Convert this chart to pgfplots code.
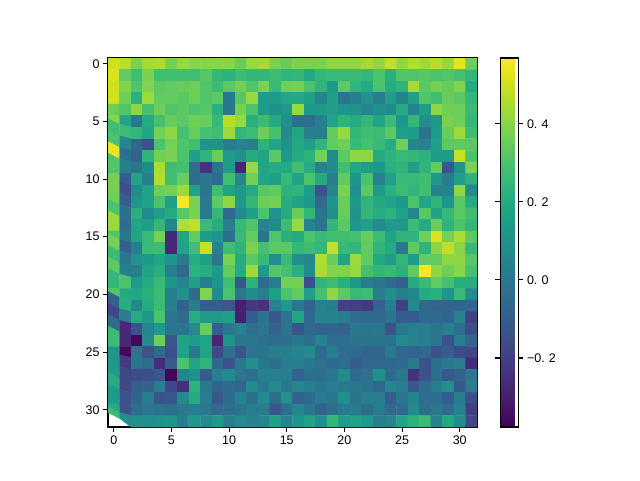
\documentclass[border=0pt]{standalone}
\usepackage{fontspec}
\setmainfont{Liberation Sans}
\usepackage{pgfplots}
\pgfplotsset{compat=1.18}
\begin{document}
\begin{tikzpicture}[x=1pt,y=1pt]
\useasboundingbox (0,0) rectangle (640,480);
\begin{axis}[
    at={(108pt,53pt)}, anchor=south west,
    scale only axis, width=369pt, height=369pt,
    y dir=reverse,
    xmin=-0.5, xmax=31.5, ymin=-0.5, ymax=31.5,
    xtick={0,5,...,30}, ytick={0,5,...,30},
    tick align=outside, tick pos=left,
    major tick length=4.9pt,
    every tick/.style={black, line width=1.1pt},
    axis line style={line width=1.1pt},
    tick label style={font=\fontsize{12.5}{15}\selectfont},
    /pgf/number format/assume math mode=true,
    colormap/viridis,
    point meta min=-0.377, point meta max=0.569,
    colorbar,
    colorbar style={
        xshift=14pt,
        width=18.5pt,
        ytick={-0.2,0,0.2,0.4},
        yticklabels={−0.\,\,2,0.\,\,0,0.\,\,2,0.\,\,4},
        major tick length=4.9pt,
        tick align=outside,
        every tick/.style={black, line width=1.1pt},
        axis line style={line width=1.1pt},
        tick label style={font=\fontsize{12.5}{15}\selectfont},
    },
]
\addplot[matrix plot*, mesh/cols=32, point meta=explicit] table[
    row sep=\\, header=false,
    x expr={mod(\coordindex,32)}, y expr={floor(\coordindex/32)}, meta index=0] {
.50\\.47\\.38\\.44\\.45\\.37\\.42\\.40\\.40\\.40\\.40\\.35\\.42\\.44\\.38\\.35\\.38\\.38\\.38\\.41\\.41\\.41\\.44\\.41\\.48\\.41\\.46\\.43\\.47\\.42\\.53\\.36\\
.52\\.34\\.28\\.38\\.28\\.28\\.28\\.28\\.32\\.25\\.23\\.27\\.25\\.25\\.27\\.24\\.25\\.19\\.25\\.26\\.26\\.26\\.25\\.30\\.22\\.31\\.31\\.32\\.30\\.31\\.29\\.25\\
.50\\.39\\.31\\.39\\.33\\.34\\.35\\.36\\.31\\.27\\.33\\.37\\.31\\.38\\.26\\.36\\.37\\.30\\.24\\.13\\.33\\.24\\.20\\.30\\.20\\.24\\.44\\.33\\.37\\.35\\.39\\.20\\
.50\\.36\\.22\\.43\\.34\\.34\\.33\\.36\\.31\\.33\\.00\\.32\\.42\\.14\\.14\\.19\\.19\\.16\\.05\\.16\\-.02\\.03\\.11\\.02\\.15\\.05\\.16\\.31\\.28\\.35\\.33\\.25\\
.36\\.31\\.41\\.29\\.36\\.31\\.33\\.30\\.32\\.22\\.00\\.38\\.30\\.14\\.10\\.12\\.42\\.13\\.13\\.15\\.12\\.11\\.05\\.09\\.08\\.20\\.05\\.15\\.41\\.36\\.36\\.26\\
.40\\.17\\.00\\.20\\.29\\.35\\.33\\.36\\.35\\.26\\.47\\.42\\.22\\.27\\.20\\.10\\-.03\\-.03\\.03\\.17\\.24\\.20\\.25\\.18\\.27\\.12\\.25\\.08\\.13\\.38\\.36\\.25\\
.28\\.27\\.25\\.18\\.37\\.41\\.29\\.35\\.29\\.28\\.43\\.25\\.27\\.36\\.29\\.07\\.18\\.03\\.03\\.34\\.42\\.25\\.28\\.27\\.33\\.15\\.14\\-.02\\.14\\.35\\.43\\.28\\
.30\\.05\\-.06\\-.14\\.30\\.37\\.31\\.28\\.11\\.10\\.03\\.05\\.03\\.23\\.17\\.10\\.19\\.16\\.24\\.34\\.36\\.26\\.29\\.26\\.20\\.36\\.06\\.04\\.16\\.33\\.34\\.33\\
.54\\-.03\\-.08\\.24\\.37\\.38\\.30\\.16\\.24\\.35\\.14\\.10\\.20\\.17\\.33\\.13\\.20\\.23\\.37\\.08\\.33\\.41\\.41\\.20\\.23\\.26\\.25\\.23\\.14\\.14\\.49\\.30\\
.31\\.03\\-.02\\.08\\.45\\.28\\.29\\-.03\\-.24\\-.02\\.14\\-.28\\.42\\.18\\.20\\.19\\.28\\.20\\.02\\.07\\.28\\.19\\.15\\.12\\.22\\.24\\.15\\.24\\.34\\-.12\\.11\\.38\\
.37\\-.11\\.17\\.02\\.46\\.28\\.35\\-.04\\.00\\-.04\\.28\\.06\\.37\\.18\\.16\\.26\\.17\\.30\\.20\\.02\\.34\\.12\\.30\\.04\\.15\\.26\\.26\\.28\\.13\\.03\\.16\\.23\\
.38\\-.15\\.08\\.17\\.36\\.37\\.43\\.17\\-.01\\.28\\.17\\.13\\.20\\.32\\.34\\.23\\.24\\.14\\-.13\\.06\\.38\\.09\\.33\\.14\\.22\\.27\\.24\\.28\\.04\\.04\\.41\\.07\\
.36\\-.10\\.12\\.17\\.30\\.15\\.56\\.38\\.01\\.33\\.41\\.13\\.25\\.36\\.37\\.21\\.17\\.13\\-.06\\.11\\.35\\.13\\.24\\.19\\.18\\.13\\.30\\.18\\.24\\.12\\.33\\.20\\
.30\\-.03\\.22\\.08\\.15\\.20\\.32\\.38\\.01\\.25\\-.06\\.08\\.15\\.30\\.11\\.20\\.35\\.25\\-.01\\.09\\.35\\.11\\.25\\.21\\.23\\.17\\.06\\.32\\.17\\.26\\.33\\.28\\
.43\\-.04\\.18\\.15\\.25\\.06\\.46\\.48\\.27\\.21\\.03\\.26\\.31\\.04\\.08\\.27\\.42\\.05\\-.01\\.25\\.33\\.12\\.15\\.07\\.13\\.13\\.27\\.20\\.35\\.24\\.30\\.25\\
.31\\.00\\.18\\.26\\.37\\-.27\\.18\\.34\\.14\\.12\\-.03\\.26\\.34\\-.01\\.31\\.22\\.20\\.30\\.26\\.28\\.28\\.29\\.35\\.27\\.17\\.24\\.24\\.36\\.52\\.37\\.45\\.33\\
.37\\-.09\\.03\\.26\\.27\\-.27\\.17\\.28\\.49\\.04\\.28\\.24\\.38\\.29\\.33\\.33\\.25\\.27\\.25\\.48\\.26\\.25\\.34\\.24\\.20\\.00\\.33\\.24\\.40\\.48\\.40\\.26\\
.27\\.00\\.11\\.13\\.18\\.12\\.03\\.21\\.16\\.00\\.38\\.20\\.33\\.26\\.09\\.26\\.10\\.06\\.46\\.35\\.17\\.43\\.34\\.19\\.15\\.25\\.14\\.34\\.34\\.41\\.41\\.32\\
.33\\.03\\.03\\.17\\.22\\.02\\-.06\\.23\\.21\\.13\\.34\\.20\\.43\\.13\\.32\\.29\\.22\\.08\\.45\\.39\\.39\\.42\\.29\\.25\\.26\\.22\\.34\\.57\\.41\\.36\\.40\\.29\\
.25\\.30\\.14\\.20\\.26\\.12\\.05\\.15\\.02\\.12\\.28\\-.12\\.23\\-.04\\.02\\.37\\.37\\-.15\\.24\\.27\\.22\\.13\\.03\\-.01\\-.05\\-.08\\.20\\.27\\.34\\.29\\.21\\.21\\
.31\\.20\\.19\\.22\\.27\\.03\\.10\\-.05\\.39\\.08\\.30\\-.01\\.08\\.02\\.16\\.30\\.34\\.16\\.29\\.41\\.33\\.26\\.27\\.03\\.09\\.03\\.06\\.20\\.22\\.12\\.26\\.07\\
-.09\\.21\\.06\\.20\\.27\\.03\\-.08\\.03\\-.10\\-.10\\-.12\\-.30\\-.22\\-.24\\.04\\.13\\.00\\-.08\\.05\\.03\\-.19\\-.20\\-.22\\-.08\\.02\\-.20\\.07\\-.06\\-.07\\-.07\\-.07\\-.07\\
-.18\\.02\\.20\\.13\\.30\\-.01\\-.05\\.21\\.14\\.14\\.15\\-.30\\-.10\\-.02\\-.12\\-.02\\.18\\-.06\\.05\\.05\\.03\\-.04\\-.05\\-.05\\-.01\\-.10\\-.10\\-.05\\-.05\\-.07\\.04\\-.20\\
-.04\\-.27\\-.14\\.06\\.13\\-.01\\-.01\\.07\\.35\\-.10\\.00\\.04\\-.03\\-.01\\-.08\\-.02\\-.13\\-.06\\-.07\\-.07\\-.08\\.00\\-.01\\.00\\-.13\\.00\\.04\\.02\\-.01\\.03\\-.03\\-.16\\
.27\\-.27\\-.36\\.07\\.36\\-.12\\.17\\.14\\.18\\-.28\\.11\\-.01\\-.01\\-.03\\-.04\\-.03\\.00\\-.03\\.04\\-.03\\-.03\\-.02\\-.02\\-.02\\-.02\\.07\\.04\\.02\\-.01\\-.14\\.03\\-.07\\
.12\\-.36\\-.02\\-.14\\-.05\\-.15\\.17\\.00\\.18\\-.16\\-.03\\-.14\\-.01\\-.01\\.03\\.03\\.05\\.07\\-.05\\.03\\-.05\\-.05\\-.07\\-.07\\.01\\-.06\\-.07\\-.06\\-.14\\-.10\\-.16\\-.18\\
.12\\-.22\\-.01\\-.04\\-.26\\-.10\\.30\\.18\\.24\\-.05\\-.14\\.00\\.10\\.00\\-.03\\.03\\.02\\.00\\-.03\\-.05\\-.04\\-.10\\-.06\\-.06\\-.06\\-.05\\.01\\-.14\\-.03\\.01\\.02\\-.26\\
.13\\-.18\\-.16\\-.15\\-.12\\-.37\\.05\\.10\\-.11\\.03\\.07\\-.01\\-.03\\.03\\.02\\.03\\-.07\\-.03\\-.03\\.00\\.08\\-.05\\-.03\\.09\\-.05\\.00\\-.24\\-.14\\-.03\\-.12\\-.07\\-.01\\
.20\\-.17\\-.10\\-.08\\.02\\-.17\\-.25\\.23\\.01\\-.07\\-.05\\-.07\\.07\\.00\\.07\\.00\\.06\\.03\\-.01\\.02\\.01\\.00\\-.02\\-.06\\.06\\.03\\-.12\\-.04\\.03\\.10\\-.12\\.02\\
.14\\-.14\\-.07\\.03\\-.13\\-.12\\.07\\.20\\.02\\-.12\\-.05\\.04\\-.03\\.07\\-.03\\.10\\-.08\\-.05\\.01\\-.01\\.09\\-.02\\.03\\.02\\-.10\\-.01\\.05\\-.04\\-.04\\-.10\\.03\\-.15\\
.20\\-.14\\-.04\\.00\\-.02\\-.03\\.00\\.02\\.00\\-.06\\-.03\\-.02\\.03\\.02\\-.13\\-.03\\.05\\.00\\-.08\\-.03\\.01\\.02\\-.04\\.02\\-.06\\-.06\\.08\\-.04\\.00\\-.05\\.04\\-.21\\
.27\\.09\\.10\\.09\\.10\\.12\\.03\\.13\\.07\\.13\\.03\\.07\\.05\\.06\\.16\\.05\\.12\\.17\\.09\\.25\\.14\\.17\\.13\\.03\\.05\\.17\\.23\\.27\\.05\\.19\\.08\\-.18\\
};
\end{axis}
\end{tikzpicture}
\end{document}
